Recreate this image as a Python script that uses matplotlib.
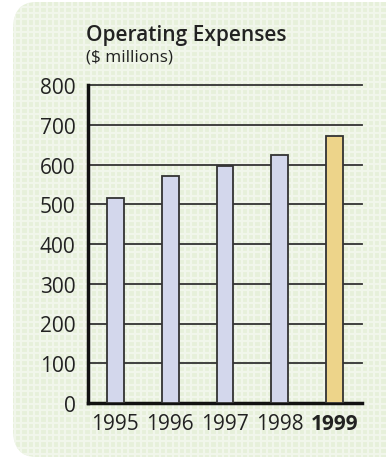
import matplotlib.pyplot as plt
from matplotlib.patches import FancyBboxPatch
import numpy as np

# Datos
anios = ['1995', '1996', '1997', '1998', '1999']
gastos = [516, 572, 597, 625, 672]
colores = ['#d3d7ec', '#d3d7ec', '#d3d7ec', '#d3d7ec', '#edd48a']
marcas_y = [0, 100, 200, 300, 400, 500, 600, 700, 800]

W, H = 386, 460
fig = plt.figure(figsize=(W / 100, H / 100), dpi=100)
fig.patch.set_facecolor('white')

# Panel verde de fondo con esquinas redondeadas
panel = FancyBboxPatch((13 / W, 2 / H), 420 / W, 455 / H,
                       boxstyle='round,pad=0,rounding_size=0.06',
                       transform=fig.transFigure, facecolor='#e6f0da',
                       edgecolor='none', zorder=0)
fig.patches.append(panel)

# Cuadricula clara del panel
for xp in np.arange(15, W, 6.3):
    ln = plt.Line2D([xp / W, xp / W], [0, 1], transform=fig.transFigure,
                    color='#f1f6eb', lw=1.6, zorder=0.5)
    ln.set_clip_path(panel)
    fig.lines.append(ln)
for yp in np.arange(5, H, 6.3):
    ln = plt.Line2D([0, 1], [yp / H, yp / H], transform=fig.transFigure,
                    color='#f1f6eb', lw=1.6, zorder=0.5)
    ln.set_clip_path(panel)
    fig.lines.append(ln)

# Ejes
x0, x1 = 88, 362
y0, y1 = 404, 86
ax = fig.add_axes([x0 / W, (H - y0) / H, (x1 - x0) / W, (y0 - y1) / H])
ax.set_facecolor('none')
ax.set_zorder(2)

pos = np.arange(len(anios))
ax.bar(pos, gastos, width=0.31, color=colores, edgecolor='#333333',
       linewidth=1.3, zorder=3)

ax.set_xlim(-0.5, 4.5)
ax.set_ylim(0, 800)
ax.set_yticks(marcas_y)
ax.set_yticklabels([str(v) for v in marcas_y])
ax.yaxis.grid(True, color='#333333', linewidth=1.3)
for gl in ax.get_ygridlines():
    gl.set_clip_on(False)
ax.set_axisbelow(True)
ax.set_xticks(pos)
ax.set_xticklabels(anios)
for lbl in ax.get_xticklabels():
    if lbl.get_text() == '1999':
        lbl.set_fontweight('bold')

ax.tick_params(axis='both', length=0, labelsize=15, labelcolor='#222222',
               labelfontfamily='Open Sans')
ax.tick_params(axis='y', pad=9)
ax.tick_params(axis='x', pad=7)

for s in ['top', 'right']:
    ax.spines[s].set_visible(False)
ax.spines['left'].set_linewidth(2.5)
ax.spines['bottom'].set_linewidth(2.5)
ax.spines['left'].set_color('#111111')
ax.spines['bottom'].set_color('#111111')

# Titulos
fig.text(86 / W, 1 - 35 / H, 'Operating Expenses', fontsize=15,
         family='Open Sans', fontweight='semibold', color='#222222',
         va='center', ha='left', zorder=3)
fig.text(86 / W, 1 - 58 / H, '($ millions)', fontsize=12.3,
         family='Open Sans', color='#222222', va='center', ha='left', zorder=3)

fig.savefig('out.png', dpi=100, facecolor=fig.get_facecolor())
